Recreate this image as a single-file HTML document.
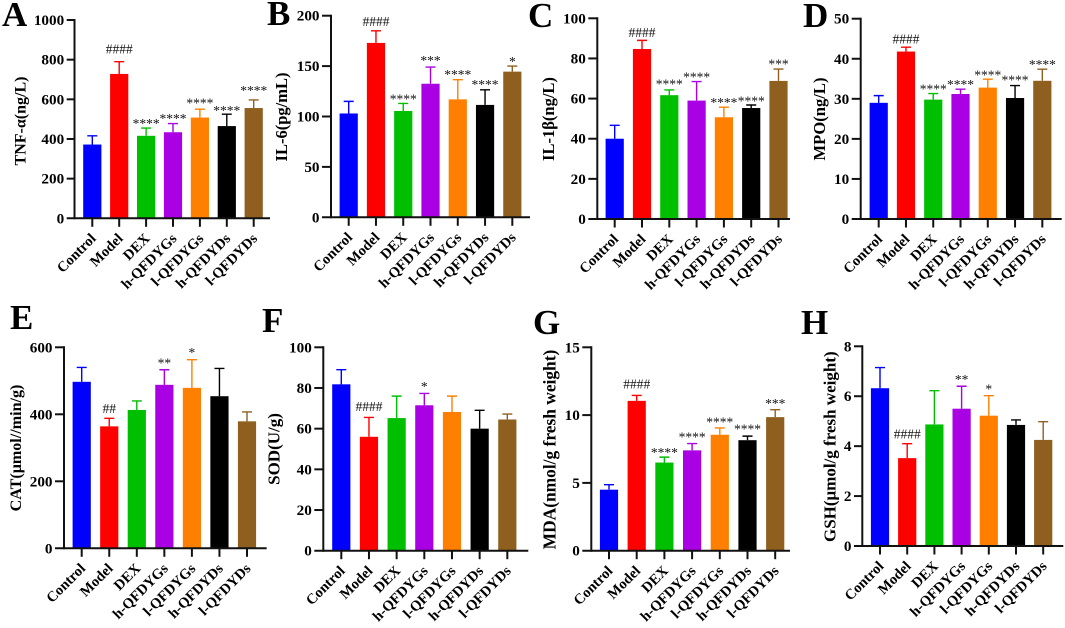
<!DOCTYPE html>
<html lang="en">
<head>
<meta charset="utf-8">
<title>Biochemical indicators bar charts</title>
<style>
  html, body { margin: 0; padding: 0; background: #fff; }
  svg { display: block; font-family: "Liberation Serif", serif; filter: blur(0.3px); }
  .tick { font-size: 15.2px; font-weight: bold; text-anchor: end; fill: #000; }
  .cat { font-size: 14.6px; font-weight: bold; text-anchor: end; fill: #000; }
  .ytitle { font-weight: bold; text-anchor: middle; fill: #000; }
  .letter { font-size: 35px; font-weight: bold; fill: #000; }
  .sig { font-size: 13.5px; text-anchor: middle; fill: #111; }
</style>
</head>
<body>
<svg id="figure" xmlns="http://www.w3.org/2000/svg" width="1065" height="628" viewBox="0 0 1065 628"></svg>
<script>
const categories = ["Control", "Model", "DEX", "h-QFDYGs", "l-QFDYGs", "h-QFDYDs", "l-QFDYDs"];
const barColors = ["#0000ff", "#ff0000", "#00bf00", "#a900e4", "#ff8000", "#000000", "#8f5f20"];

const meansA = [372, 728, 416, 434, 508, 465, 556];
const upperA = [416, 790, 455, 478, 550, 525, 597];
const sigA = ["", "####", "****", "****", "****", "****", "****"];
const sigLevelA = [0, 853, 486, 512, 588, 551, 652];
const ticksA = [0, 200, 400, 600, 800, 1000];

const meansB = [103, 173, 105.5, 132.5, 117, 111.5, 144.5];
const upperB = [115, 185, 113, 149, 136.5, 126.5, 150];
const sigB = ["", "####", "****", "***", "****", "****", "*"];
const sigLevelB = [0, 194, 119, 157, 143, 133, 156];
const ticksB = [0, 50, 100, 150, 200];

const meansC = [40, 84.7, 61.7, 59, 50.7, 55.3, 68.8];
const upperC = [46.7, 89, 64.3, 68.5, 55.7, 56.8, 74.7];
const sigC = ["", "####", "****", "****", "****", "****", "***"];
const sigLevelC = [0, 93, 68, 71.6, 58.8, 59.6, 78];
const ticksC = [0, 20, 40, 60, 80, 100];

const meansD = [29, 41.8, 29.8, 31.2, 32.8, 30.2, 34.5];
const upperD = [30.8, 42.9, 31.3, 32.4, 34.9, 33.3, 37.4];
const sigD = ["", "####", "****", "****", "****", "****", "****"];
const sigLevelD = [0, 44.9, 32.8, 33.9, 36.3, 35.1, 38.9];
const ticksD = [0, 10, 20, 30, 40, 50];

const meansE = [497, 364, 413, 488, 479, 454, 379];
const upperE = [540, 388, 440, 533, 563, 537, 407];
const sigE = ["", "##", "", "**", "*", "", ""];
const sigLevelE = [0, 418, 0, 557, 589, 0, 0];
const ticksE = [0, 200, 400, 600];

const meansF = [81.8, 56, 65.2, 71.5, 68.2, 60, 64.5];
const upperF = [89, 65.5, 76, 77.3, 76, 69, 67.2];
const sigF = ["", "####", "", "*", "", "", ""];
const sigLevelF = [0, 70.8, 0, 81.5, 0, 0, 0];
const ticksF = [0, 20, 40, 60, 80, 100];

const meansG = [4.5, 11.05, 6.5, 7.4, 8.55, 8.15, 9.85];
const upperG = [4.87, 11.45, 6.9, 7.9, 9.05, 8.45, 10.4];
const sigG = ["", "####", "****", "****", "****", "****", "***"];
const sigLevelG = [0, 12.3, 7.37, 8.48, 9.6, 9.07, 10.97];
const ticksG = [0, 5, 10, 15];

const meansH = [6.32, 3.52, 4.87, 5.5, 5.22, 4.85, 4.25];
const upperH = [7.15, 4.1, 6.22, 6.4, 6.02, 5.05, 4.98];
const sigH = ["", "####", "", "**", "*", "", ""];
const sigLevelH = [0, 4.49, 0, 6.74, 6.34, 0, 0];
const ticksH = [0, 2, 4, 6, 8];

const panels = [
  { id: "a", letter: "A", lx: 2, ly: 26, title: "TNF-α(ng/L)", titleSize: 16, tx: 25.5, ty: 121, axisX: 74.5, top: 20, zero: 218.3, left: 66.7, right: 270, first: 92.3, step: 26.9, means: meansA, upper: upperA, sig: sigA, sigLevel: sigLevelA, ticks: ticksA },
  { id: "b", letter: "B", lx: 267, ly: 25, title: "IL-6(pg/mL)", titleSize: 16.5, tx: 287.2, ty: 117, axisX: 331, top: 15.7, zero: 217.3, left: 322, right: 530, first: 348.7, step: 27.27, means: meansB, upper: upperB, sig: sigB, sigLevel: sigLevelB, ticks: ticksB },
  { id: "c", letter: "C", lx: 528, ly: 27, title: "IL-1β(ng/L)", titleSize: 16.5, tx: 554.2, ty: 119, axisX: 597.3, top: 18.3, zero: 219, left: 588.3, right: 790, first: 614.7, step: 27.3, means: meansC, upper: upperC, sig: sigC, sigLevel: sigLevelC, ticks: ticksC },
  { id: "d", letter: "D", lx: 803, ly: 27, title: "MPO(ng/L)", titleSize: 16.6, tx: 825.2, ty: 119, axisX: 860.7, top: 18.7, zero: 219, left: 851.7, right: 1061.7, first: 878.7, step: 27.27, means: meansD, upper: upperD, sig: sigD, sigLevel: sigLevelD, ticks: ticksD },
  { id: "e", letter: "E", lx: 10, ly: 329, title: "CAT(μmol//min/g)", titleSize: 16.1, tx: 21, ty: 448, axisX: 64, top: 347.3, zero: 548.3, left: 55, right: 266.7, first: 81.7, step: 27.55, means: meansE, upper: upperE, sig: sigE, sigLevel: sigLevelE, ticks: ticksE },
  { id: "f", letter: "F", lx: 262, ly: 332, title: "SOD(U/g)", titleSize: 17, tx: 279.4, ty: 449, axisX: 323.3, top: 347.3, zero: 550.7, left: 314.3, right: 528.3, first: 341.3, step: 27.67, means: meansF, upper: upperF, sig: sigF, sigLevel: sigLevelF, ticks: ticksF },
  { id: "g", letter: "G", lx: 533, ly: 334, title: "MDA(nmol/g fresh weight)", titleSize: 17.4, tx: 555.5, ty: 449.5, axisX: 591.3, top: 347.3, zero: 550.7, left: 582.3, right: 790, first: 609, step: 27.7, means: meansG, upper: upperG, sig: sigG, sigLevel: sigLevelG, ticks: ticksG },
  { id: "h", letter: "H", lx: 801, ly: 334, title: "GSH(μmol/g fresh weight)", titleSize: 17, tx: 835.4, ty: 446.7, axisX: 862.3, top: 346.3, zero: 546, left: 854, right: 1063.3, first: 880, step: 27.2, means: meansH, upper: upperH, sig: sigH, sigLevel: sigLevelH, ticks: ticksH }
];

const NS = "http://www.w3.org/2000/svg";
const svg = document.getElementById("figure");

function make(tag, parent, attrs) {
  const el = document.createElementNS(NS, tag);
  for (const k in attrs) el.setAttribute(k, attrs[k]);
  parent.appendChild(el);
  return el;
}

function drawPanel(p) {
  const yMax = p.ticks[p.ticks.length - 1];
  const yScale = v => p.zero - (v / yMax) * (p.zero - p.top);
  const xScale = i => p.first + i * p.step;
  const barW = 18.2;
  const capW = 10;

  const g = make("g", svg, {});
  
  

  const letter = make("text", g, { x: p.lx, y: p.ly, class: "letter" });
  letter.textContent = p.letter;
  
  

  const title = make("text", g, { class: "ytitle", "font-size": p.titleSize, transform: "translate(" + p.tx + "," + p.ty + ") rotate(-90)" });
  title.textContent = p.title;
  
  

  p.means.forEach((v, i) => {
    const cx = xScale(i);
    const color = barColors[i];
    const err = make("path", g, {
      d: "M" + cx + " " + yScale(v) + "V" + yScale(p.upper[i]) + "M" + (cx - capW / 2) + " " + yScale(p.upper[i]) + "H" + (cx + capW / 2),
      stroke: color, "stroke-width": 1.4, fill: "none"
    });
    
    

    const bar = make("rect", g, {
      x: cx - barW / 2, y: yScale(v), width: barW, height: p.zero - yScale(v), fill: color
    });
    
    

    if (p.sig[i]) {
      const isHash = p.sig[i].charAt(0) === "#";
      const s = make("text", g, { x: cx, y: yScale(p.sigLevel[i]) + (isHash ? 4.5 : 6), class: "sig" });
      s.textContent = p.sig[i];
      
      
    }

    const tick = make("line", g, {
      x1: cx, x2: cx, y1: p.zero, y2: p.zero + 8.5, stroke: "#111", "stroke-width": 2
    });
    
    

    const label = make("text", g, {
      class: "cat", transform: "translate(" + (cx + 4.5) + "," + (p.zero + 21) + ") rotate(-45)"
    });
    label.textContent = categories[i];
    
    
  });

  const yAxis = make("line", g, {
    x1: p.axisX, x2: p.axisX, y1: p.top - 1, y2: p.zero + 1, stroke: "#111", "stroke-width": 2
  });
  
  

  const xAxis = make("line", g, {
    x1: p.left, x2: p.right, y1: p.zero, y2: p.zero, stroke: "#111", "stroke-width": 2
  });
  
  

  p.ticks.forEach(t => {
    const y = yScale(t);
    if (t !== 0) {
      const mark = make("line", g, {
        x1: p.left, x2: p.axisX, y1: y, y2: y, stroke: "#111", "stroke-width": 2
      });
      
      
    }
    const lab = make("text", g, { x: p.left - 2.5, y: y + 5, class: "tick" });
    lab.textContent = t;
    
    
  });
}

panels.forEach(drawPanel);
</script>
</body>
</html>
